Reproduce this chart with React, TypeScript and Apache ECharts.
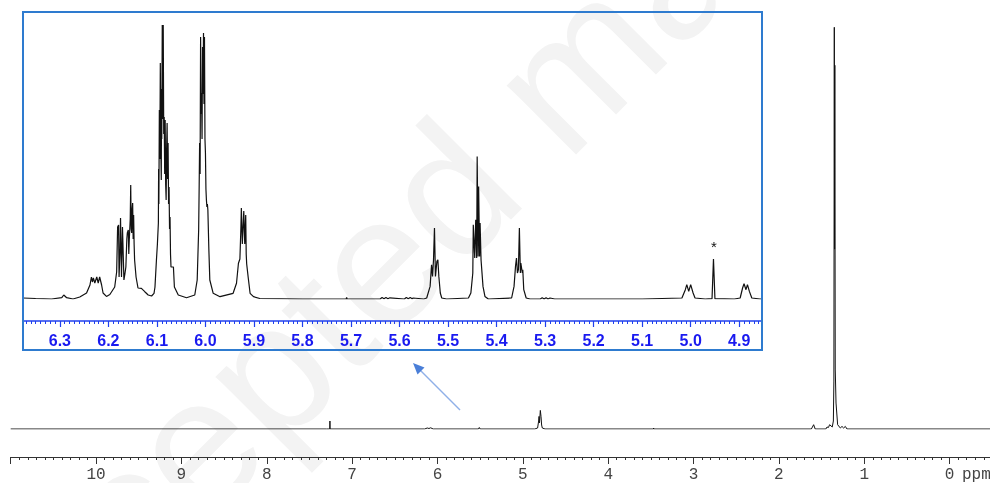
import React, { useEffect, useRef } from "react";
import * as echarts from "echarts";

// ---------- main spectrum (ppm, height in px above baseline) ----------
const mainSpectrum: [number, number][] = [
  [11, 0], [7.3, 0], [7.262, 0], [7.26, 8], [7.258, 0],
  [6.15, 0], [6.12, 1], [6.1, 0.5], [6.08, 1.2], [6.05, 0],
  [5.52, 0], [5.51, 1.5], [5.5, 0],
  [4.86, 0], [4.827, 1], [4.815, 8], [4.81, 12.6], [4.805, 6], [4.795, 18.6], [4.787, 12.6], [4.78, 4], [4.772, 1], [4.74, 0],
  [3.47, 0], [3.468, 1], [3.466, 0],
  [1.62, 0], [1.593, 4.3], [1.575, 0], [1.45, 0], [1.436, 2], [1.42, 1.5], [1.406, 4.3], [1.375, 2],
  [1.362, 8], [1.356, 48], [1.351, 402], [1.348, 180], [1.345, 364], [1.34, 60], [1.331, 26],
  [1.312, 4.3], [1.28, 1], [1.261, 2.6], [1.242, 1], [1.222, 2.6], [1.202, 0], [-0.473, 0],
];

// ---------- inset spectrum (ppm, height in px above baseline) ----------
const insetLeft: [number, number][] = [
  [6.376, 1], [6.35, 0.5], [6.317, 0], [6.296, 1.3], [6.292, 4], [6.286, 1.3], [6.273, 0], [6.259, 2], [6.245, 6],
  [6.238, 14], [6.235, 22], [6.233, 17], [6.231, 21], [6.228, 16], [6.224, 22], [6.221, 16], [6.218, 22],
  [6.214, 14], [6.211, 6], [6.204, 2.6], [6.197, 4.5],
];
const inset616: [number, number][] = [
  [6.187, 12], [6.183, 27], [6.181, 72], [6.179, 74], [6.178, 22], [6.176, 50], [6.175, 81], [6.173, 22],
  [6.171, 72], [6.168, 19], [6.166, 25], [6.164, 32], [6.162, 60], [6.161, 66], [6.159, 69], [6.158, 45],
  [6.157, 59], [6.155, 80], [6.154, 114], [6.153, 70], [6.152, 66], [6.151, 90], [6.15, 96], [6.149, 60],
  [6.148, 84], [6.147, 55], [6.146, 39], [6.143, 22], [6.139, 11], [6.132, 10.7], [6.125, 7.3], [6.118, 4],
  [6.111, 3], [6.106, 5.7],
];
const inset609: [number, number][] = [
  [6.104, 12], [6.101, 39], [6.099, 55], [6.097, 76], [6.0965, 130], [6.096, 95], [6.095, 189], [6.094, 140],
  [6.093, 236], [6.092, 150], [6.091, 119], [6.0905, 210], [6.09, 160], [6.089, 274], [6.088, 180], [6.087, 274],
  [6.086, 165], [6.085, 182], [6.084, 125], [6.083, 179], [6.082, 115], [6.081, 99], [6.08, 150], [6.079, 176],
  [6.078, 120], [6.077, 156], [6.076, 95], [6.075, 112], [6.074, 70], [6.073, 82], [6.072, 45], [6.071, 32],
  [6.066, 32], [6.064, 12], [6.056, 4], [6.039, 1.3], [6.022, 4],
];
const inset600: [number, number][] = [
  [6.017, 19], [6.014, 69], [6.013, 110], [6.012, 156], [6.011, 125], [6.01, 262], [6.009, 185], [6.008, 206],
  [6.007, 160], [6.006, 252], [6.005, 205], [6.004, 266], [6.003, 195], [6.002, 262], [6.001, 160], [6.0, 146],
  [5.999, 110], [5.998, 99], [5.997, 92], [5.996, 95], [5.995, 89], [5.993, 50], [5.991, 19], [5.984, 5.7],
  [5.97, 2.3],
];
const inset592: [number, number][] = [
  [5.943, 5.7], [5.936, 15.7], [5.932, 35.7], [5.929, 40], [5.927, 70], [5.926, 91], [5.924, 55], [5.921, 88],
  [5.919, 55], [5.917, 84], [5.916, 45], [5.915, 35], [5.912, 22], [5.908, 5.7], [5.901, 2.3], [5.888, 0.5],
];
const insetMiddle: [number, number][] = [
  [5.8, 0], [5.71, 0], [5.709, 1.5], [5.708, 0], [5.64, 0], [5.636, 1.5], [5.632, 0.3], [5.628, 1.5],
  [5.624, 0.3], [5.62, 1.2], [5.59, 0], [5.586, 1.5], [5.582, 0.3], [5.578, 1.5], [5.574, 0.3], [5.572, 1],
  [5.55, 0],
];
const inset553: [number, number][] = [
  [5.544, 1], [5.537, 12.6], [5.534, 34.3], [5.532, 22.6], [5.53, 39], [5.528, 71], [5.526, 22.6],
  [5.523, 37.6], [5.521, 39.3], [5.519, 22.6], [5.516, 6], [5.513, 1], [5.503, 0],
];
const inset544: [number, number][] = [
  [5.458, 1], [5.453, 6], [5.449, 26], [5.448, 74.3], [5.445, 41], [5.443, 79.3], [5.441, 41], [5.44, 142.6],
  [5.438, 42.6], [5.437, 112.6], [5.435, 42.6], [5.434, 76], [5.432, 39], [5.431, 39.3], [5.428, 12.6],
  [5.424, 2.6], [5.417, 0],
];
const inset535: [number, number][] = [
  [5.369, 1], [5.364, 12.6], [5.361, 32.6], [5.359, 41], [5.357, 26], [5.355, 29.3], [5.353, 71], [5.351, 26],
  [5.35, 36], [5.347, 26], [5.346, 29.3], [5.344, 9.3], [5.339, 1], [5.331, 0],
  [5.31, 0], [5.306, 1.2], [5.302, 0], [5.298, 1.2], [5.294, 0], [5.29, 1], [5.28, 0],
];
const insetRight: [number, number][] = [
  [5.1, 0], [5.018, 1], [5.011, 9.3], [5.008, 14.3], [5.004, 7.6], [5.0, 14.3], [4.995, 6], [4.991, 1], [4.97, 0],
  [4.956, 0.3], [4.953, 40], [4.95, 0.3],
  [4.91, 0], [4.898, 1], [4.893, 11], [4.89, 15.3], [4.886, 9.3], [4.883, 14.3], [4.879, 7.6], [4.874, 1],
  [4.857, 0], [4.853, 0],
];

// ---------- ticks ----------
const mainMajorTicks = [0, 1, 2, 3, 4, 5, 6, 7, 8, 9, 10, 11];
const mainTickLabels = [0, 1, 2, 3, 4, 5, 6, 7, 8, 9, 10];
const insetTickLabels = [6.3, 6.2, 6.1, 6.0, 5.9, 5.8, 5.7, 5.6, 5.5, 5.4, 5.3, 5.2, 5.1, 5.0, 4.9];

const mainMinorTicks: number[] = [];
for (let i = -4; i <= 110; i++) if (i % 10 !== 0) mainMinorTicks.push(i / 10);
const insetMinorTicks: number[] = [];
for (let i = 486; i <= 637; i++) if (i % 10 !== 0) insetMinorTicks.push(i / 100);

const insetSpectrum = [
  ...insetLeft, ...inset616, ...inset609, ...inset600, ...inset592, ...insetMiddle,
  ...inset553, ...inset544, ...inset535, ...insetRight,
];

const MAIN_MIN = -0.473, MAIN_MAX = 11;
const INSET_MIN = 4.853, INSET_MAX = 6.376;
const BLUE_AXIS = "#2040ee";
const BLUE_LABEL = "#1a1af0";
const BLUE_BOX = "#2e7bcf";

export default function App() {
  const ref = useRef<HTMLDivElement>(null);
  useEffect(() => {
    const chart = echarts.init(ref.current!, null, { renderer: "svg" });
    const wmSize = 185;
    chart.setOption({
      animation: false,
      grid: [
        { left: 10.7, right: 0, top: 20, bottom: 53.7 },
        { left: 23, right: 228, top: 12, bottom: 184 },
      ],
      xAxis: [
        {
          gridIndex: 0, type: "value", min: MAIN_MIN, max: MAIN_MAX, inverse: true, position: "bottom", offset: 28,
          axisLine: { show: true, onZero: false, lineStyle: { color: "#333", width: 1 } },
          axisTick: { show: true, customValues: mainMajorTicks, length: 7, lineStyle: { color: "#333" } },
          axisLabel: {
            show: true, customValues: mainTickLabels, margin: 10, color: "#444", fontSize: 16,
            fontFamily: "Liberation Mono", formatter: (v: number) => String(Math.round(v)),
          },
          splitLine: { show: false },
        },
        {
          gridIndex: 0, type: "value", min: MAIN_MIN, max: MAIN_MAX, inverse: true, position: "bottom", offset: 28,
          axisLine: { show: false, onZero: false },
          axisTick: { show: true, customValues: mainMinorTicks, length: 3, lineStyle: { color: "#333" } },
          axisLabel: { show: false },
          splitLine: { show: false },
        },
        {
          gridIndex: 1, type: "value", min: INSET_MIN, max: INSET_MAX, inverse: true, position: "bottom", offset: 22,
          axisLine: { show: true, onZero: false, lineStyle: { color: BLUE_AXIS, width: 1.5 } },
          axisTick: { show: true, customValues: insetTickLabels, length: 6, lineStyle: { color: BLUE_AXIS, width: 1.2 } },
          axisLabel: {
            show: true, customValues: insetTickLabels, margin: 11, color: BLUE_LABEL, fontSize: 16,
            fontWeight: "bold", fontFamily: "Liberation Sans", formatter: (v: number) => v.toFixed(1),
          },
          splitLine: { show: false },
        },
        {
          gridIndex: 1, type: "value", min: INSET_MIN, max: INSET_MAX, inverse: true, position: "bottom", offset: 22,
          axisLine: { show: false, onZero: false },
          axisTick: { show: true, customValues: insetMinorTicks, length: 3, lineStyle: { color: BLUE_AXIS } },
          axisLabel: { show: false },
          splitLine: { show: false },
        },
      ],
      yAxis: [
        { gridIndex: 0, type: "value", min: 0, max: 409.3, show: false },
        { gridIndex: 1, type: "value", min: 0, max: 287, show: false },
      ],
      series: [
        {
          type: "line", xAxisIndex: 0, yAxisIndex: 0, data: mainSpectrum, showSymbol: false, symbol: "none",
          lineStyle: { color: "#111", width: 1 }, z: 5,
        },
        {
          type: "line", xAxisIndex: 2, yAxisIndex: 1, data: insetSpectrum, showSymbol: false, symbol: "none",
          lineStyle: { color: "#111", width: 1.2 }, z: 5,
        },
      ],
      graphic: [
        {
          type: "text", x: -60, y: 700, rotation: Math.PI / 4, z: -10, silent: true,
          style: {
            text: "Accepted manuscript", x: 0, y: 0, align: "left", verticalAlign: "middle",
            font: `${wmSize}px "Liberation Sans"`, fill: "#f3f3f3",
          },
        },
        {
          type: "rect", z: 10, shape: { x: 23, y: 12, width: 739, height: 338 },
          style: { fill: "none", stroke: BLUE_BOX, lineWidth: 2 },
        },
        {
          type: "text", z: 10, x: 714, y: 246,
          style: { text: "*", align: "center", verticalAlign: "middle", font: '15px "Liberation Sans"', fill: "#111" },
        },
        {
          type: "text", z: 10, x: 962, y: 475,
          style: { text: "ppm", align: "left", verticalAlign: "middle", font: '16px "Liberation Mono"', fill: "#444" },
        },
        {
          type: "line", z: 10, shape: { x1: 460, y1: 410, x2: 419, y2: 369 },
          style: { stroke: "#8fb0e8", lineWidth: 1.5 },
        },
        {
          type: "polygon", z: 10, shape: { points: [[413, 363], [424.5, 367.5], [417.5, 374.5]] },
          style: { fill: "#4a7fd8" },
        },
      ],
    });
    return () => chart.dispose();
  }, []);
  return <div ref={ref} style={{ position: "fixed", left: 0, top: 0, width: 990, height: 483 }} />;
}
